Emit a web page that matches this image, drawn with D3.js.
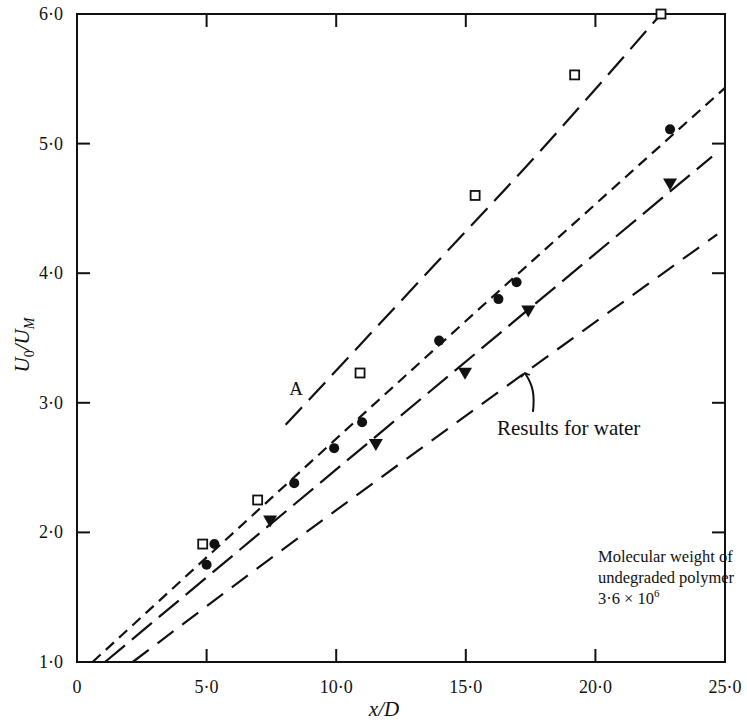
<!DOCTYPE html>
<html>
<head>
<meta charset="utf-8">
<script src="https://cdn.jsdelivr.net/npm/d3@7"></script>
<style>
  html, body { margin: 0; padding: 0; background: #fff; }
  svg { display: block; font-family: "Liberation Serif", "DejaVu Serif", serif; }
</style>
</head>
<body>
<svg id="chart" width="747" height="724"></svg>
<script>
// Axis ticks
const xTicks = [0, 5, 10, 15, 20, 25];
const yTicks = [1, 2, 3, 4, 5, 6];
const fmt = v => v === 0 ? "0" : v.toFixed(1).replace(".", "\u00B7");

// Measured points: open squares, filled circles, filled (inverted) triangles
const squareX = [4.85, 6.97, 10.92, 15.36, 19.2, 22.53];
const squareY = [1.91, 2.25, 3.23, 4.60, 5.53, 6.0];
const circleX = [5.0, 5.3, 8.38, 9.92, 11.0, 13.97, 16.26, 16.96, 22.88];
const circleY = [1.75, 1.91, 2.38, 2.65, 2.85, 3.48, 3.80, 3.93, 5.11];
const triangleX = [7.45, 11.53, 14.97, 17.41, 22.88];
const triangleY = [2.10, 2.69, 3.24, 3.72, 4.70];

// Fitted curves
const lineA = [[8.05, 2.83], [13.68, 4.04], [17.86, 4.94], [22.53, 6.0]];
const circleFit = [[0.6, 1.0], [14.0, 3.45], [25.0, 5.43]];
const triangleFit = [[1.08, 1.0], [24.5, 4.9]];
const waterFit = [[2.15, 1.0], [6.67, 1.68], [15.55, 2.98], [24.7, 4.3]];

const svg = d3.select("#chart");
const x = d3.scaleLinear().domain([0, 25]).range([77, 725]);
const y = d3.scaleLinear().domain([1, 6]).range([662, 14]);

const ink = "#111";
const tickLen = 13;

// Frame
svg.append("rect")
  .attr("x", x(0)).attr("y", y(6))
  .attr("width", x(25) - x(0)).attr("height", y(1) - y(6))
  .attr("fill", "none").attr("stroke", ink).attr("stroke-width", 2);

// Inward ticks on all four sides
const inner = xTicks.filter(v => v > 0 && v < 25);
const innerY = yTicks.filter(v => v > 1 && v < 6);
const tg = svg.append("g").attr("stroke", ink).attr("stroke-width", 2);
inner.forEach(v => {
  tg.append("line").attr("x1", x(v)).attr("x2", x(v)).attr("y1", y(1)).attr("y2", y(1) - tickLen);
  tg.append("line").attr("x1", x(v)).attr("x2", x(v)).attr("y1", y(6)).attr("y2", y(6) + tickLen);
});
innerY.forEach(v => {
  tg.append("line").attr("x1", x(0)).attr("x2", x(0) + tickLen).attr("y1", y(v)).attr("y2", y(v));
  tg.append("line").attr("x1", x(25)).attr("x2", x(25) - tickLen).attr("y1", y(v)).attr("y2", y(v));
});

// Tick labels
svg.append("g").selectAll("text").data(xTicks).join("text")
  .attr("x", d => x(d)).attr("y", y(1) + 31)
  .attr("text-anchor", "middle").attr("font-size", 18).attr("fill", ink)
  .text(fmt);
svg.append("g").selectAll("text").data(yTicks).join("text")
  .attr("x", x(0) - 14).attr("y", d => y(d) + 6)
  .attr("text-anchor", "end").attr("font-size", 18).attr("fill", ink)
  .text(fmt);

// Axis titles
const xt = svg.append("text")
  .attr("x", 384).attr("y", 716).attr("text-anchor", "middle")
  .attr("font-size", 21).attr("font-style", "italic").attr("fill", ink);
xt.text("x/D");

const yt = svg.append("text")
  .attr("transform", "translate(29,345) rotate(-90)")
  .attr("text-anchor", "middle").attr("font-size", 21)
  .attr("font-style", "italic").attr("fill", ink);
yt.append("tspan").text("U");
yt.append("tspan").attr("font-size", 14).attr("font-style", "normal").attr("dy", 5).text("0");
yt.append("tspan").attr("dy", -5).text("/U");
yt.append("tspan").attr("font-size", 14).attr("dy", 5).text("M");

// Curves
const line = d3.line().x(d => x(d[0])).y(d => y(d[1])).curve(d3.curveMonotoneX);
const curves = [
  { pts: lineA, dash: "24,10" },
  { pts: circleFit, dash: "11,7" },
  { pts: triangleFit, dash: "26,9" },
  { pts: waterFit, dash: "20,11" }
];
svg.append("g").selectAll("path").data(curves).join("path")
  .attr("d", d => line(d.pts))
  .attr("fill", "none").attr("stroke", ink).attr("stroke-width", 2.2)
  .attr("stroke-dasharray", d => d.dash);

// Markers
svg.append("g").selectAll("rect").data(d3.zip(squareX, squareY)).join("rect")
  .attr("x", d => x(d[0]) - 4.5).attr("y", d => y(d[1]) - 4.5)
  .attr("width", 9).attr("height", 9)
  .attr("fill", "#fff").attr("stroke", ink).attr("stroke-width", 1.8);

svg.append("g").selectAll("circle").data(d3.zip(circleX, circleY)).join("circle")
  .attr("cx", d => x(d[0])).attr("cy", d => y(d[1])).attr("r", 5)
  .attr("fill", ink);

const tri = d3.symbol().type(d3.symbolTriangle).size(85);
svg.append("g").selectAll("path").data(d3.zip(triangleX, triangleY)).join("path")
  .attr("d", tri)
  .attr("transform", d => `translate(${x(d[0])},${y(d[1])}) rotate(180)`)
  .attr("fill", ink);

// Annotations
svg.append("text").attr("x", x(8.45)).attr("y", y(3.11) + 6)
  .attr("text-anchor", "middle").attr("font-size", 19).attr("fill", ink).text("A");

svg.append("text").attr("x", x(16.2)).attr("y", y(2.75))
  .attr("font-size", 21).attr("fill", ink).text("Results for water");

// Curved arrow pointing at the water curve
const aStart = [x(17.59), y(2.93)];
const aEnd = [x(17.28), y(3.23)];
svg.append("path")
  .attr("d", `M${aStart[0]},${aStart[1]} C${aStart[0] + 2},${aStart[1] - 18} ${aEnd[0] + 8},${aEnd[1] + 12} ${aEnd[0]},${aEnd[1]}`)
  .attr("fill", "none").attr("stroke", ink).attr("stroke-width", 2);
svg.append("path")
  .attr("d", `M${aEnd[0] - 4},${aEnd[1] + 4} L${aEnd[0]},${aEnd[1]} L${aEnd[0] + 5},${aEnd[1] + 2}`)
  .attr("fill", "none").attr("stroke", ink).attr("stroke-width", 1.8);

const mw = svg.append("text").attr("font-size", 16.5).attr("fill", ink);
mw.append("tspan").attr("x", x(20.1)).attr("y", y(1.77)).text("Molecular weight of");
mw.append("tspan").attr("x", x(20.1)).attr("y", y(1.61)).text("undegraded polymer");
mw.append("tspan").attr("x", x(20.1)).attr("y", y(1.45)).text("3\u00B76 \u00D7 10");
mw.append("tspan").attr("font-size", 11).attr("dy", -7).text("6");
</script>
</body>
</html>
